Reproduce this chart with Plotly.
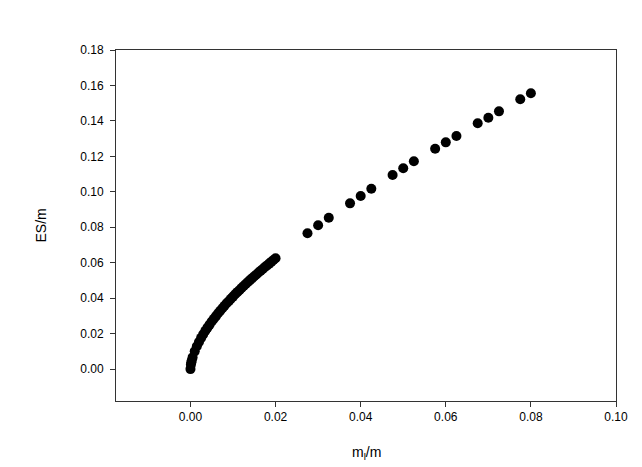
import plotly.graph_objects as go

# dense low-mass part of the curve
mass_low = [0.0, 0.0001, 0.0002, 0.0003, 0.0005, 0.001, 0.0015, 0.002, 0.0025, 0.003,
            0.0035, 0.004, 0.0045, 0.005, 0.0055, 0.006, 0.0065, 0.007, 0.0075,
            0.008, 0.0085, 0.009, 0.0095, 0.010, 0.0105, 0.011, 0.0115, 0.012,
            0.0125, 0.013, 0.0135, 0.014, 0.0145, 0.015, 0.0155, 0.016, 0.0165,
            0.017, 0.0175, 0.018, 0.0185, 0.019, 0.0195, 0.020]
es_low = [0.0, 0.0025, 0.0037, 0.0048, 0.0066, 0.0100, 0.0129, 0.0153, 0.0176, 0.0196,
          0.0216, 0.0234, 0.0251, 0.0268, 0.0284, 0.0299, 0.0315, 0.0329, 0.0343,
          0.0357, 0.0371, 0.0383, 0.0397, 0.0409, 0.0422, 0.0434, 0.0445, 0.0457,
          0.0469, 0.0480, 0.0491, 0.0502, 0.0513, 0.0524, 0.0534, 0.0545, 0.0555,
          0.0565, 0.0576, 0.0585, 0.0595, 0.0605, 0.0615, 0.0625]

# sparse high-mass points
mass_high = [0.0275, 0.030, 0.0325, 0.0375, 0.040, 0.0425, 0.0475, 0.050, 0.0525,
             0.0575, 0.060, 0.0625, 0.0675, 0.070, 0.0725, 0.0775, 0.080]
es_high = [0.0766, 0.0811, 0.0854, 0.0935, 0.0976, 0.1017, 0.1095, 0.1133, 0.1172,
           0.1243, 0.1279, 0.1315, 0.1387, 0.1418, 0.1454, 0.1522, 0.1556]

x_all = mass_low + mass_high
y_all = es_low + es_high

fig = go.Figure()

fig.add_trace(go.Scatter(
    x=x_all,
    y=y_all,
    mode="markers",
    marker=dict(color="black", size=10),
    showlegend=False
))

axis_style = dict(
    showgrid=False,
    zeroline=False,
    showline=True,
    mirror=True,
    linecolor="#333333",
    linewidth=1,
    ticks="outside",
    ticklen=5,
    tickcolor="#333333",
    tickformat=".2f",
    dtick=0.02,
    tickfont=dict(family="Liberation Sans, Arial", size=12, color="black"),
)

fig.update_xaxes(range=[-0.0175, 0.10], tick0=0, **axis_style)
fig.update_yaxes(range=[-0.018, 0.18], tick0=0, ticklabelstandoff=4, **axis_style)

fig.update_layout(
    width=642,
    height=467,
    paper_bgcolor="white",
    plot_bgcolor="white",
    margin=dict(l=108, r=34, t=42, b=74),
    font=dict(family="Liberation Sans, Arial", size=14, color="black"),
    annotations=[
        dict(text="m<sub>l</sub>/m", xref="paper", yref="paper", x=0.5, y=-0.148,
             xanchor="center", yanchor="middle", showarrow=False, font=dict(size=14)),
        dict(text="ES/m", xref="paper", yref="paper", x=-0.152, y=0.5, textangle=-90,
             xanchor="center", yanchor="middle", showarrow=False, font=dict(size=14)),
    ],
)

fig.write_html("out.html")
